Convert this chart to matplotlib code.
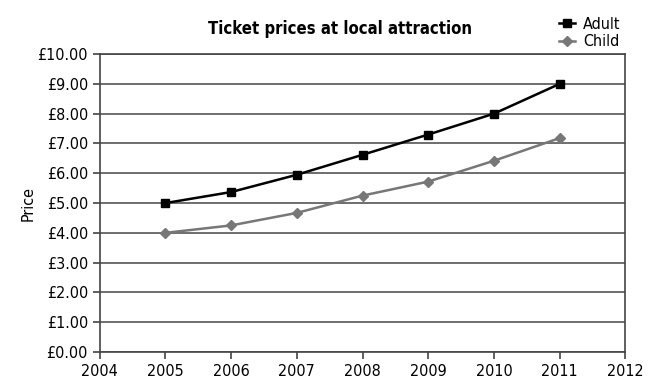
import matplotlib

matplotlib.use("Agg")
import matplotlib.pyplot as plt
from matplotlib.ticker import FuncFormatter

years = [2005, 2006, 2007, 2008, 2009, 2010, 2011]
adult = [5.00, 5.37, 5.95, 6.62, 7.30, 8.00, 9.00]
child = [4.00, 4.25, 4.67, 5.25, 5.72, 6.42, 7.18]

plt.rcParams["font.family"] = ["DejaVu Sans"]
plt.rcParams["font.stretch"] = "condensed"

fig = plt.figure(figsize=(6.48, 3.92), dpi=100)
ax = fig.add_axes([0.154, 0.102, 0.811, 0.760])

ax.plot(years, adult, color="black", marker="s", markersize=6, linewidth=1.8,
        label="Adult")
ax.plot(years, child, color="#777777", marker="D", markersize=5.5, linewidth=1.8,
        label="Child")

ax.set_xlim(2004, 2012)
ax.set_ylim(0, 10)
ax.set_xticks(range(2004, 2013))
ax.set_yticks(range(0, 11))
ax.yaxis.set_major_formatter(FuncFormatter(lambda v, _: f"£{v:.2f}"))
ax.grid(axis="y", color="#555555", linewidth=1.2)
ax.set_axisbelow(True)
for s in ax.spines.values():
    s.set_color("#444444")
    s.set_linewidth(1.2)
ax.tick_params(axis="both", labelsize=11.5, color="#444444", length=5, width=1.2)

ax.set_ylabel("Price", fontsize=11.5, labelpad=1)
fig.text(0.525, 0.925, "Ticket prices at local attraction", ha="center",
         va="center", fontsize=12, fontweight="bold")
fig.legend(loc="upper right", bbox_to_anchor=(0.975, 0.985), frameon=False,
           fontsize=11.5, handlelength=1.0, handletextpad=0.5,
           labelspacing=0.15, borderaxespad=0.3)

fig.savefig("out.png", dpi=100)
